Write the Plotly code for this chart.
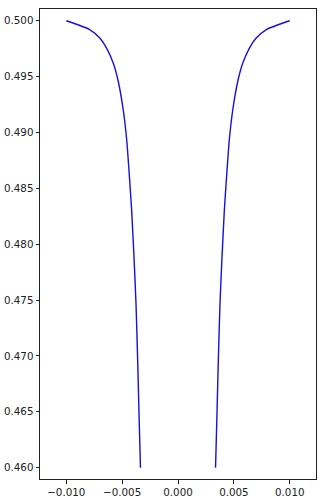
import plotly.graph_objects as go

# Left branch; right branch mirrors it
left_x = [-0.0100, -0.00794, -0.00698, -0.00638, -0.00579, -0.00534, -0.00490,
          -0.00459, -0.00439, -0.00415, -0.00394, -0.00376, -0.00361, -0.00349, -0.00336]
left_y = [0.5000, 0.49923, 0.49843, 0.49753, 0.49619, 0.49454, 0.49201,
          0.48933, 0.48665, 0.48307, 0.47889, 0.47472, 0.46965, 0.46488, 0.4600]
right_x = [-v for v in left_x]
right_y = list(left_y)

x_ticks = [-0.010, -0.005, 0.000, 0.005, 0.010]
y_ticks = [0.460, 0.465, 0.470, 0.475, 0.480, 0.485, 0.490, 0.495, 0.500]

fig = go.Figure()
fig.add_trace(go.Scatter(x=left_x, y=left_y, mode="lines",
                         line=dict(color="#1a0fdd", width=1.4, shape="spline", smoothing=0.6),
                         showlegend=False))
fig.add_trace(go.Scatter(x=right_x, y=right_y, mode="lines",
                         line=dict(color="#1a0fdd", width=1.4, shape="spline", smoothing=0.6),
                         showlegend=False))

axis_common = dict(showline=True, linecolor="#222222", linewidth=1, mirror=True,
                   ticks="outside", ticklen=3.5, tickwidth=1, tickcolor="#222222",
                   showgrid=False, zeroline=False, tickformat=".3f",
                   tickfont=dict(family="DejaVu Sans", size=10.3, color="#222222"))

fig.update_xaxes(range=[-0.01235, 0.01235], tickvals=x_ticks, **axis_common)
fig.update_yaxes(range=[0.45899, 0.50105], tickvals=y_ticks, **axis_common)

fig.update_layout(width=320, height=502,
                  margin=dict(l=40, r=4, t=9, b=23),
                  plot_bgcolor="white", paper_bgcolor="white")

fig.write_html("out.html")
